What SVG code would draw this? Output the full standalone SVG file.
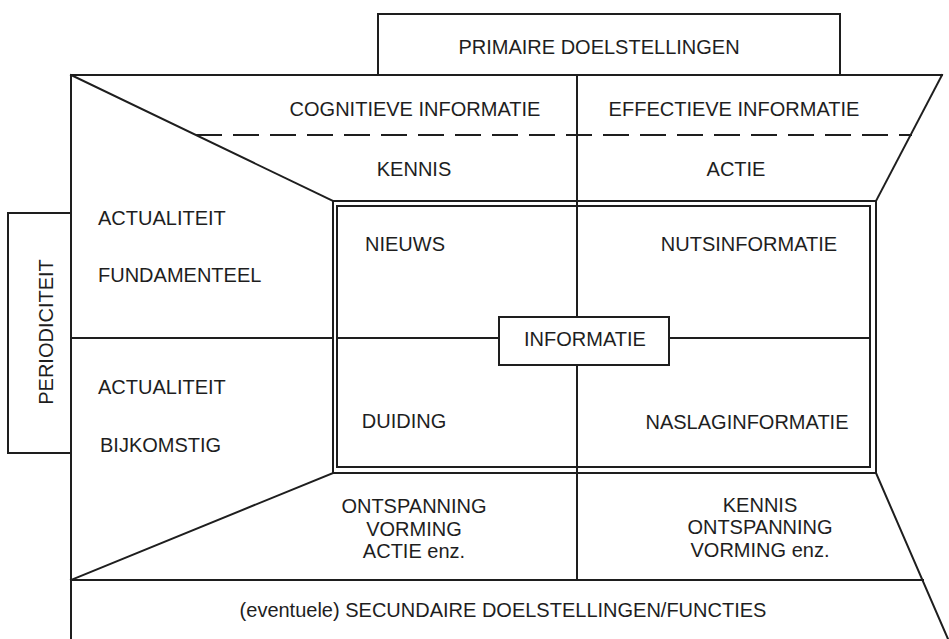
<svg xmlns="http://www.w3.org/2000/svg" width="949" height="639" viewBox="0 0 949 639">
<style>
.ln{fill:none;stroke:#1e1e1e;stroke-width:2;stroke-linecap:square}
.t{font-family:"Liberation Sans",Arial,sans-serif;font-size:20px;fill:#1e1e1e;text-anchor:middle}
.l{text-anchor:start}
</style>
<rect width="949" height="639" fill="#fff"/>
<g id="connectors">
<polyline class="ln" points="378,75 378,14 840,14 840,75"/>
<line class="ln" x1="71" y1="75" x2="942" y2="75"/>
<line class="ln" x1="71" y1="75" x2="71" y2="639"/>
<line class="ln" x1="71" y1="75" x2="333" y2="201"/>
<line class="ln" x1="942" y1="75" x2="876" y2="201"/>
<line class="ln" x1="197" y1="135" x2="911" y2="135" stroke-dasharray="24 13" stroke-linecap="butt"/>
<line class="ln" x1="577" y1="75" x2="577" y2="317"/>
<line class="ln" x1="577" y1="365" x2="577" y2="580"/>
<rect class="ln" x="333" y="201" width="543" height="272"/>
<rect class="ln" x="337" y="206" width="533" height="261"/>
<line class="ln" x1="71" y1="338" x2="333" y2="338"/>
<line class="ln" x1="337" y1="338" x2="499" y2="338"/>
<line class="ln" x1="669" y1="338" x2="870" y2="338"/>
<line class="ln" x1="333" y1="473" x2="71" y2="580"/>
<line class="ln" x1="876" y1="473" x2="948" y2="639"/>
<line class="ln" x1="71" y1="580" x2="923" y2="580"/>
<polyline class="ln" points="71,213 8,213 8,453 71,453"/>
</g>
<g id="primaire"><text class="t" x="599" y="54">PRIMAIRE DOELSTELLINGEN</text></g>
<g id="cognitieve"><text class="t" x="415" y="116">COGNITIEVE INFORMATIE</text></g>
<g id="effectieve"><text class="t" x="734" y="116">EFFECTIEVE INFORMATIE</text></g>
<g id="kennis"><text class="t" x="414" y="176">KENNIS</text></g>
<g id="actie"><text class="t" x="736" y="176">ACTIE</text></g>
<g id="periodiciteit"><text class="t" transform="translate(53,332) rotate(-90)">PERIODICITEIT</text></g>
<g id="actualiteit-fundamenteel">
<text class="t l" x="98" y="225">ACTUALITEIT</text>
<text class="t l" x="98" y="282">FUNDAMENTEEL</text>
</g>
<g id="actualiteit-bijkomstig">
<text class="t l" x="98" y="394">ACTUALITEIT</text>
<text class="t l" x="100" y="452">BIJKOMSTIG</text>
</g>
<g id="nieuws"><text class="t" x="405" y="251">NIEUWS</text></g>
<g id="nutsinformatie"><text class="t" x="749" y="251">NUTSINFORMATIE</text></g>
<g id="duiding"><text class="t" x="404" y="428">DUIDING</text></g>
<g id="naslaginformatie"><text class="t" x="747" y="429">NASLAGINFORMATIE</text></g>
<g id="informatie">
<rect class="ln" x="499" y="317" width="170" height="48"/>
<text class="t" x="585" y="346">INFORMATIE</text>
</g>
<g id="ontspanning-links">
<text class="t" x="414" y="513">ONTSPANNING</text>
<text class="t" x="414" y="536">VORMING</text>
<text class="t" x="414" y="558">ACTIE enz.</text>
</g>
<g id="kennis-rechts">
<text class="t" x="760" y="512">KENNIS</text>
<text class="t" x="760" y="534">ONTSPANNING</text>
<text class="t" x="760" y="557">VORMING enz.</text>
</g>
<g id="secundaire"><text class="t" x="503" y="617">(eventuele) SECUNDAIRE DOELSTELLINGEN/FUNCTIES</text></g>
</svg>
